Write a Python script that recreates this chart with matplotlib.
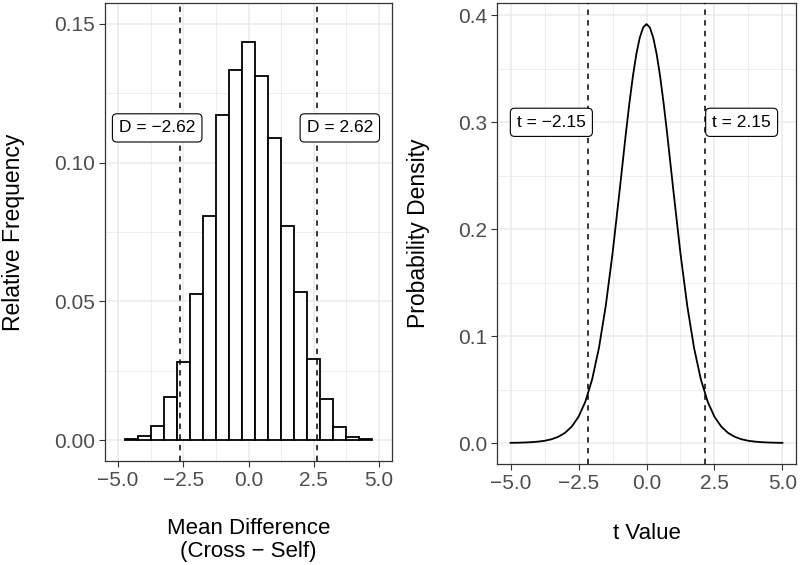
import matplotlib
matplotlib.use("Agg")
import matplotlib.pyplot as plt

plt.rcParams["font.family"] = ["Liberation Sans", "DejaVu Sans"]

# histogram of mean differences (bin centres, relative frequency)
bin_centers = [-4.5, -4.0, -3.5, -3.0, -2.5, -2.0, -1.5, -1.0, -0.5, 0.0,
               0.5, 1.0, 1.5, 2.0, 2.5, 3.0, 3.5, 4.0, 4.5]
rel_freq = [0.0005, 0.0015, 0.0052, 0.0156, 0.0282, 0.0525, 0.0809, 0.1171, 0.1335, 0.1435,
            0.1312, 0.1090, 0.0771, 0.0534, 0.0293, 0.0149, 0.0047, 0.0012, 0.0004]
bin_width = 0.5
d_obs = 2.62

# t density
t_x = [-5.0, -4.75, -4.5, -4.25, -4.0, -3.75, -3.5, -3.25, -3.0, -2.75, -2.5, -2.25,
       -2.0, -1.75, -1.5, -1.25, -1.0, -0.75, -0.625, -0.5, -0.375, -0.25, -0.125, 0.0,
       0.125, 0.25, 0.375, 0.5, 0.625, 0.75, 1.0, 1.25, 1.5, 1.75, 2.0, 2.25, 2.5, 2.75,
       3.0, 3.25, 3.5, 3.75, 4.0, 4.25, 4.5, 4.75, 5.0]
t_dens = [0.0002, 0.0003, 0.0005, 0.0008, 0.0013, 0.0021, 0.0035, 0.0058, 0.0095, 0.0154, 0.0246, 0.0387,
          0.0595, 0.0889, 0.1282, 0.1772, 0.2336, 0.2917, 0.3188, 0.3432, 0.3636, 0.3790, 0.3886, 0.3919,
          0.3886, 0.3790, 0.3636, 0.3432, 0.3188, 0.2917, 0.2336, 0.1772, 0.1282, 0.0889, 0.0595, 0.0387, 0.0246, 0.0154,
          0.0095, 0.0058, 0.0035, 0.0021, 0.0013, 0.0008, 0.0005, 0.0003, 0.0002]
t_obs = 2.15

x_ticks = [-5.0, -2.5, 0.0, 2.5, 5.0]
x_minor = [-3.75, -1.25, 1.25, 3.75]
y_ticks_left = [0.0, 0.05, 0.10, 0.15]
y_minor_left = [0.025, 0.075, 0.125]
y_ticks_right = [0.0, 0.1, 0.2, 0.3, 0.4]
y_minor_right = [0.05, 0.15, 0.25, 0.35]

fig = plt.figure(figsize=(8, 5.65), dpi=100)
ax1 = fig.add_axes([105 / 800, 104 / 565, 287 / 800, 458 / 565])
ax2 = fig.add_axes([497 / 800, 101 / 565, 299 / 800, 461 / 565])

grid_col = "#EBEBEB"
dash = (0, (3.5, 3.5))


def fmt(f, v):
    return (f % v).replace("-", "\u2212")


def style_axes(ax, yticks, yminor, yfmt):
    ax.set_xlim(-5.5, 5.5)
    ax.set_xticks(x_ticks)
    ax.set_xticklabels([fmt("%.1f", v) for v in x_ticks])
    ax.set_xticks(x_minor, minor=True)
    ax.set_yticks(yticks)
    ax.set_yticklabels([fmt(yfmt, v) for v in yticks])
    ax.set_yticks(yminor, minor=True)
    ax.grid(True, which="major", color=grid_col, linewidth=1.1, zorder=0)
    ax.grid(True, which="minor", color=grid_col, linewidth=0.6, zorder=0)
    ax.set_axisbelow(True)
    ax.tick_params(axis="both", which="major", labelsize=15, labelcolor="#4D4D4D",
                   color="#333333", length=4, width=0.8, pad=3)
    ax.tick_params(axis="both", which="minor", length=0)
    for s in ax.spines.values():
        s.set_color("#333333")
        s.set_linewidth(0.9)


def add_label(ax, x, y, txt):
    ax.text(x, y, txt, ha="center", va="center", fontsize=12.5, zorder=5,
            bbox=dict(boxstyle="round,pad=0.38,rounding_size=0.25", fc="white", ec="black", lw=0.8))


# left: histogram
ax1.bar(bin_centers, rel_freq, width=bin_width, color="white", edgecolor="black",
        linewidth=1.3, zorder=2)
ax1.axvline(-d_obs, color="black", linestyle=dash, linewidth=1.1, zorder=3)
ax1.axvline(d_obs, color="black", linestyle=dash, linewidth=1.1, zorder=3)
add_label(ax1, -3.5, 0.1125, "D = \u22122.62")
add_label(ax1, 3.5, 0.1125, "D = 2.62")
ax1.set_ylim(-0.0075, 0.1575)
style_axes(ax1, y_ticks_left, y_minor_left, "%.2f")
ax1.set_ylabel("Relative Frequency", fontsize=16.5, va="center")
ax1.yaxis.set_label_coords(-0.32, 0.5)
ax1.set_xlabel("Mean Difference\n(Cross \u2212 Self)", fontsize=16, linespacing=1.1)
ax1.xaxis.set_label_coords(0.5, -0.125)
ax1.xaxis.label.set_va("top")

# right: t distribution
ax2.plot(t_x, t_dens, color="black", linewidth=1.3, zorder=2)
ax2.axvline(-t_obs, color="black", linestyle=dash, linewidth=1.1, zorder=3)
ax2.axvline(t_obs, color="black", linestyle=dash, linewidth=1.1, zorder=3)
add_label(ax2, -3.5, 0.3, "t = \u22122.15")
add_label(ax2, 3.5, 0.3, "t = 2.15")
ax2.set_ylim(-0.0196, 0.4116)
style_axes(ax2, y_ticks_right, y_minor_right, "%.1f")
ax2.set_ylabel("Probability Density", fontsize=16.5, va="center")
ax2.yaxis.set_label_coords(-0.264, 0.5)
ax2.set_xlabel("t Value", fontsize=16)
ax2.xaxis.set_label_coords(0.5, -0.128)
ax2.xaxis.label.set_va("top")

plt.savefig("out.png", dpi=100)
